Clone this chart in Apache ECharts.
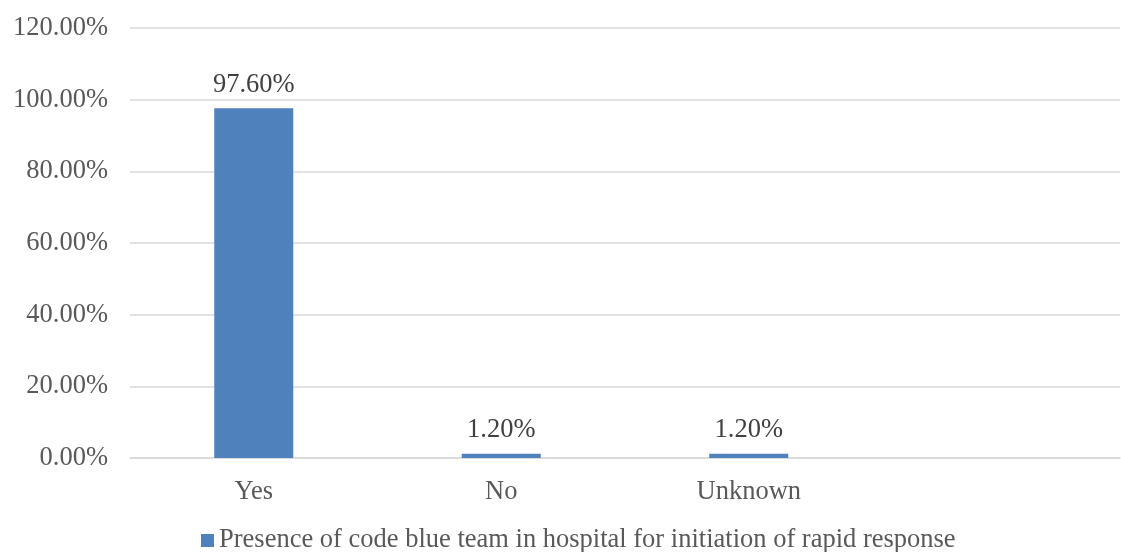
<!DOCTYPE html>
<html><head><meta charset="utf-8">
<script src="https://cdn.jsdelivr.net/npm/echarts@6/dist/echarts.min.js"></script>
<style>html,body{margin:0;padding:0;background:#fff}#c{width:1121px;height:552px}</style>
</head><body><div id="c"></div>
<script>
const categories = ['Yes', 'No', 'Unknown', ''];
const values = [97.6, 1.2, 1.2, null];
const seriesName = 'Presence of code blue team in hospital for initiation of rapid response';
const yTicks = [0, 20, 40, 60, 80, 100, 120];

const FONT = '"Liberation Serif", "Times New Roman", serif';
const chart = echarts.init(document.getElementById('c'));
chart.setOption({
  animation: false,
  grid: { left: 130, right: 1, top: 28, bottom: 94 },
  legend: {
    top: 522, left: 196,
    itemWidth: 13, itemHeight: 13, itemGap: 6,
    icon: 'rect',
    textStyle: { fontFamily: FONT, fontSize: 26.5, color: '#595959' },
    data: [seriesName]
  },
  xAxis: {
    type: 'category', data: categories,
    axisLine: { lineStyle: { color: '#d9d9d9', width: 1.5 } },
    axisTick: { show: false },
    axisLabel: { fontFamily: FONT, fontSize: 26.5, color: '#595959', margin: 21 }
  },
  yAxis: {
    type: 'value', min: yTicks[0], max: yTicks[yTicks.length - 1], interval: 20,
    axisLine: { show: false }, axisTick: { show: false },
    splitLine: { lineStyle: { color: '#d9d9d9', width: 1.5 } },
    axisLabel: { fontFamily: FONT, fontSize: 26.5, color: '#595959', margin: 22,
      formatter: v => v.toFixed(2) + '%' }
  },
  series: [{
    name: seriesName, type: 'bar', data: values, barWidth: 79,
    itemStyle: { color: '#4f81bd' },
    label: { show: true, position: 'top', distance: 10, fontFamily: FONT, fontSize: 26.5, color: '#404040',
      formatter: p => p.value.toFixed(2) + '%' }
  }]
});
</script></body></html>
